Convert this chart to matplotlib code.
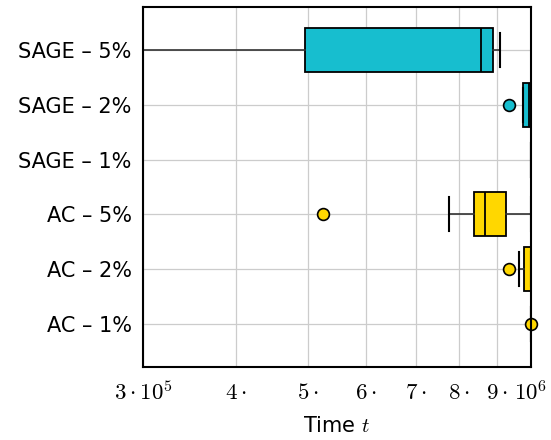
import numpy as np
import matplotlib
matplotlib.use("Agg")
import matplotlib.pyplot as plt

plt.rcParams['mathtext.fontset'] = 'cm'
plt.rcParams['font.family'] = ['DejaVu Sans']

# bottom to top
labels = ["AC – 1%", "AC – 2%", "AC – 5%", "SAGE – 1%", "SAGE – 2%", "SAGE – 5%"]
colors = ["#FFD700", "#FFD700", "#FFD700", "#17BECF", "#17BECF", "#17BECF"]
whislo = [1.0e6, 9.64e5, 7.76e5, 1.0e6, 9.77e5, 2.5e5]
q1 = [1.0e6, 9.78e5, 8.39e5, 1.0e6, 9.77e5, 4.96e5]
med = [1.0e6, 1.0e6, 8.67e5, 1.0e6, 9.93e5, 8.57e5]
q3 = [1.0e6, 1.0e6, 9.25e5, 1.0e6, 1.0e6, 8.90e5]
whishi = [1.0e6, 1.0e6, 1.0e6, 1.0e6, 1.0e6, 9.08e5]
fliers = [[1.0e6], [9.35e5], [5.24e5], [], [9.35e5], []]

xticks = [3e5, 4e5, 5e5, 6e5, 7e5, 8e5, 9e5, 1e6]
xticklabels = [r"$3\cdot10^5$", r"$4\cdot$", r"$5\cdot$", r"$6\cdot$",
               r"$7\cdot$", r"$8\cdot$", r"$9\cdot$", r"$10^6$"]

stats = []
for i in range(len(labels)):
    stats.append(dict(whislo=whislo[i], q1=q1[i], med=med[i], q3=q3[i],
                      whishi=whishi[i], fliers=fliers[i], label=labels[i]))

fig = plt.figure(figsize=(5.51, 4.4), dpi=100)
ax = fig.add_axes([0.2595, 0.166, 0.7042, 0.818])
ax.set_xscale('log')

positions = np.arange(1, len(labels) + 1)
bp = ax.bxp(stats, positions=positions, vert=False, widths=0.8,
            patch_artist=True, showfliers=True,
            boxprops=dict(edgecolor='black', linewidth=1.3),
            medianprops=dict(color='black', linewidth=1.3),
            whiskerprops=dict(color='#333333', linewidth=1.2),
            capprops=dict(color='black', linewidth=1.5),
            capwidths=0.62,
            flierprops=dict(marker='o', markersize=8.5,
                            markeredgecolor='black', markeredgewidth=1.2))
for patch, c in zip(bp['boxes'], colors):
    patch.set_facecolor(c)
for fl, c in zip(bp['fliers'], colors):
    fl.set_markerfacecolor(c)
    fl.set_clip_on(False)

ax.set_xlim(3e5, 1e6)
ax.set_ylim(0.215, 6.785)
ax.xaxis.set_minor_locator(matplotlib.ticker.NullLocator())
ax.set_xticks(xticks)
ax.set_xticklabels(xticklabels, fontsize=16.5)
ax.set_yticks(positions)
ax.set_yticklabels(labels, fontsize=15)
ax.tick_params(axis='y', length=0, pad=8)
ax.tick_params(axis='x', length=0, pad=10)
ax.grid(True, color='#cccccc', linewidth=0.9)
ax.set_axisbelow(True)
for s in ax.spines.values():
    s.set_linewidth(1.5)
    s.set_color('black')
ax.set_xlabel("Time $t$", fontsize=15, labelpad=8)

fig.savefig("out.png", dpi=100)
